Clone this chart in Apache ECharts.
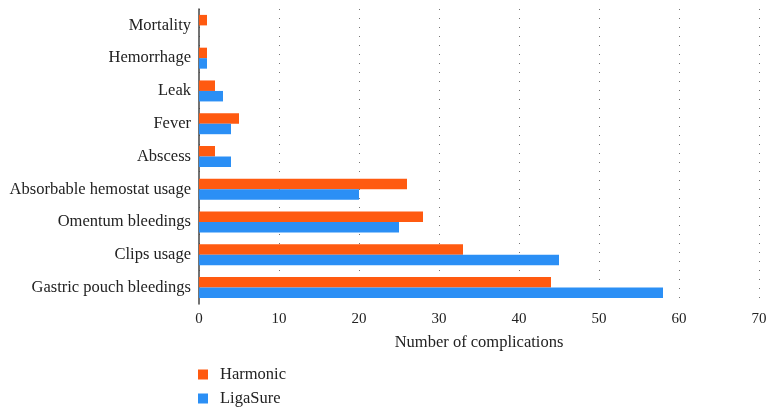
<!DOCTYPE html>
<html><head><meta charset="utf-8">
<script src="https://cdn.jsdelivr.net/npm/echarts@6/dist/echarts.min.js"></script>
<style>html,body{margin:0;padding:0;background:#fff}#c{width:776px;height:415px}</style>
</head><body><div id="c"></div>
<script>
const categories = ['Mortality','Hemorrhage','Leak','Fever','Abscess','Absorbable hemostat usage','Omentum bleedings','Clips usage','Gastric pouch bleedings'];
const harmonic = [1,1,2,5,2,26,28,33,44];
const ligasure = [0,1,3,4,4,20,25,45,58];
const xTicks = [0,10,20,30,40,50,60,70];
const font = 'Liberation Serif';
const chart = echarts.init(document.getElementById('c'));
const legendBase = {orient:'vertical',left:193,itemWidth:10,itemHeight:10,icon:'rect',
    textStyle:{fontFamily:font,fontSize:16.5,color:'#222',padding:[0,0,0,7]}};
chart.setOption({
  animation:false,
  textStyle:{fontFamily:font},
  grid:{left:199,right:17,top:9,height:295,containLabel:false},
  legend:[
    Object.assign({},legendBase,{top:361,data:['Harmonic']}),
    Object.assign({},legendBase,{top:385,data:['LigaSure']})
  ],
  xAxis:{type:'value',min:xTicks[0],max:xTicks[xTicks.length-1],interval:10,
    name:'Number of complications',nameLocation:'middle',nameGap:30,
    nameTextStyle:{fontFamily:font,fontSize:16.5,color:'#222'},
    axisLine:{show:false},axisTick:{show:false},
    axisLabel:{fontFamily:font,fontSize:15,color:'#222',margin:8},
    splitLine:{show:true,lineStyle:{type:[1,8],color:'#777',width:1}}},
  yAxis:{type:'category',data:categories,inverse:true,
    axisLine:{show:true,lineStyle:{color:'#444',width:1.5}},axisTick:{show:false},
    axisLabel:{fontFamily:font,fontSize:16.5,color:'#222',margin:8}},
  series:[
    {name:'Harmonic',type:'bar',data:harmonic,itemStyle:{color:'#ff5a10'},barGap:'0%',barCategoryGap:'36%'},
    {name:'LigaSure',type:'bar',data:ligasure,itemStyle:{color:'#2b8ff5'},barGap:'0%',barCategoryGap:'36%'}
  ]
});
</script></body></html>
